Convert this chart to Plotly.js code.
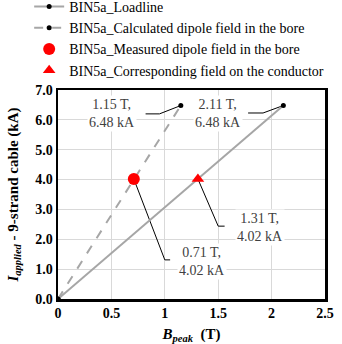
<!DOCTYPE html>
<html><head><meta charset="utf-8">
<script src="https://cdn.plot.ly/plotly-3.0.1.min.js"></script>
<style>html,body{margin:0;padding:0;background:#fff}#chart{width:342px;height:344px}</style>
</head><body><div id="chart"></div>
<script>
// Data
const loadlineB = [0, 2.11];
const loadlineI = [0, 6.48];
const calcB = [0, 1.15];
const calcI = [0, 6.48];
const measuredB = [0.71];
const measuredI = [4.02];
const condB = [1.31];
const condI = [4.02];
const seriesNames = [
  "BIN5a_Loadline",
  "BIN5a_Calculated dipole field in the bore",
  "BIN5a_Measured dipole field in the bore",
  "BIN5a_Corresponding field on the conductor"
];
const xTicks = [0, 0.5, 1, 1.5, 2, 2.5];
const xTickText = ["0", "0.5", "1", "1.5", "2", "2.5"];
const yTicks = [0, 1, 2, 3, 4, 5, 6, 7];
const yTickText = ["0.0", "1.0", "2.0", "3.0", "4.0", "5.0", "6.0", "7.0"];
// Label texts and their placement (label box centre, leader elbow, stub end)
const labelTexts = ["1.15 T,<br>6.48 kA", "2.11 T,<br>6.48 kA", "1.31 T,<br>4.02 kA", "0.71 T,<br>4.02 kA"];
const labelTargetB = [calcB[1], loadlineB[1], condB[0], measuredB[0]];
const labelTargetI = [calcI[1], loadlineI[1], condI[0], measuredI[0]];
const labelPosB = [0.51, 1.50, 1.89, 1.35];
const labelPosI = [6.20, 6.22, 2.38, 1.27];
const elbowB = [0.95, 1.92, 1.50, 1.00];
const elbowI = [6.20, 6.23, 2.44, 1.31];
const stubB = [0.82, 1.78, 1.56, 1.05];

const font = "Liberation Serif";
const gray = "#a6a6a6";

const traces = [
  {x: loadlineB, y: loadlineI, name: seriesNames[0], mode: "lines+markers",
   line: {color: gray, width: 2}, marker: {color: "#000", size: 5}},
  {x: calcB, y: calcI, name: seriesNames[1], mode: "lines+markers",
   line: {color: gray, width: 2, dash: "dash"}, marker: {color: "#000", size: 5}},
  {x: measuredB, y: measuredI, name: seriesNames[2], mode: "markers",
   marker: {color: "#ff0000", size: 12, symbol: "circle"}},
  {x: condB, y: condI, name: seriesNames[3], mode: "markers",
   marker: {color: "#ff0000", size: 11, symbol: "triangle-up"}}
];

const shapes = [];
const annotations = [];
for (let i = 0; i < labelTexts.length; i++) {
  shapes.push({type: "line", xref: "x", yref: "y", x0: labelTargetB[i], y0: labelTargetI[i],
    x1: elbowB[i], y1: elbowI[i], line: {color: "#000", width: 1}, layer: "between"});
  shapes.push({type: "line", xref: "x", yref: "y", x0: elbowB[i], y0: elbowI[i],
    x1: stubB[i], y1: elbowI[i], line: {color: "#000", width: 1}, layer: "between"});
  annotations.push({x: labelPosB[i], y: labelPosI[i], xref: "x", yref: "y", text: labelTexts[i],
    showarrow: false, bgcolor: "#fff", font: {family: font, size: 14, color: "#404040"}, borderpad: 1});
}

const layout = {
  width: 342, height: 344,
  margin: {l: 58, r: 17, t: 90, b: 45, autoexpand: false},
  paper_bgcolor: "#fff", plot_bgcolor: "#fff",
  font: {family: font, size: 13, color: "#000"},
  showlegend: true,
  legend: {x: -0.108, xanchor: "left", y: 1.474, yanchor: "top", bgcolor: "rgba(0,0,0,0)",
    font: {family: font, size: 14, color: "#000"}, tracegroupgap: 0, itemwidth: 30},
  xaxis: {range: [0, 2.5], tickvals: xTicks, ticktext: xTickText, showgrid: true, gridcolor: "#d9d9d9",
    gridwidth: 1, zeroline: false, showline: true, mirror: true, linecolor: "#000", linewidth: 2.5,
    ticks: "", tickfont: {family: font, size: 14, color: "#000", weight: "bold"},
    title: {text: "<b><i>B</i><sub><i>peak</i></sub>  (T)</b>", font: {family: font, size: 15, color: "#000"}, standoff: 9}},
  yaxis: {range: [0, 7], tickvals: yTicks, ticktext: yTickText, showgrid: true, gridcolor: "#d9d9d9",
    gridwidth: 1, zeroline: false, showline: true, mirror: true, linecolor: "#000", linewidth: 2.5,
    ticks: "", tickfont: {family: font, size: 14, color: "#000", weight: "bold"},
    title: {text: "<b><i>I</i><sub><i>applied</i></sub> - 9-strand cable (kA)</b>", font: {family: font, size: 15, color: "#000"}, standoff: 13}},
  shapes: shapes,
  annotations: annotations
};

Plotly.newPlot("chart", traces, layout, {displayModeBar: false, staticPlot: true});
</script>
</body></html>
